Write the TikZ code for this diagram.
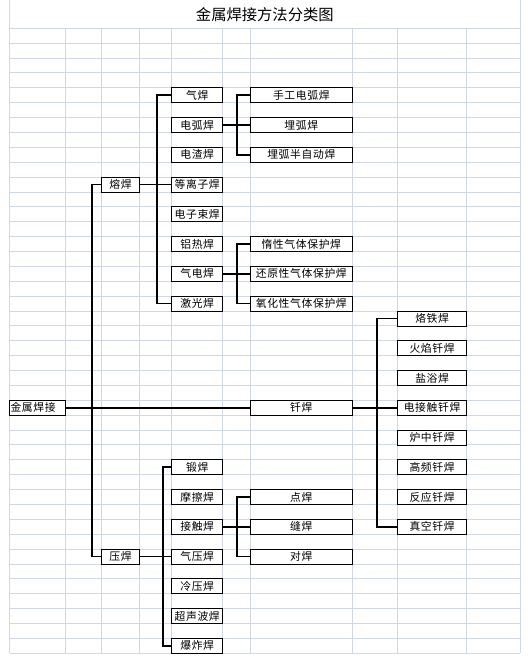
\documentclass[tikz,border=0pt]{standalone}
\usepackage{fontspec}
\newfontfamily\cjk{Noto Sans CJK SC}
\newfontfamily\cjksp[LetterSpace=6]{Noto Sans CJK SC}
\definecolor{gridc}{HTML}{D0D7E5}
\tikzset{
  cellbox/.style={draw=black, line width=0.8pt, fill=white, inner sep=0pt, outer sep=0pt,
    minimum height=14.88pt, font=\cjksp\fontsize{10.8}{11}\selectfont},
  conn/.style={draw=black, line width=1.7pt},
  gridline/.style={draw=gridc, line width=0.9pt}
}
\newcommand{\cbox}[6][]{\node[cellbox, minimum width={(#4-#3)*1pt}, anchor=north west, #1] (#2) at (#3, {28.3+14.88*#5}) {#6};}
\begin{document}
\begin{tikzpicture}[x=1pt,y=-1pt]
\useasboundingbox (0,0) rectangle (531,659);
% grid
\foreach \k in {0,...,42} { \draw[gridline] (9.5,{28.3+14.88*\k}) -- (520,{28.3+14.88*\k}); }
\foreach \cx in {65.5,101.7,139.5,171.7,222.7,250.3,352.3,397.7,466.5} { \draw[gridline] (\cx,28.3) -- (\cx,653.3); }
\draw[gridline] (9.5,0) -- (9.5,653.3);
\draw[gridline] (520,0) -- (520,653.3);
% title
\node[font=\cjk\fontsize{15.3}{16}\selectfont] (title) at (264.8,14.5) {金属焊接方法分类图};
% coordinates of vertical connector lines
\coordinate (t0) at (92,0);
\coordinate (v1) at (157,0);
\coordinate (v2) at (236.7,0);
\coordinate (v3) at (377.3,0);
\coordinate (v4) at (162.7,0);
% root
\cbox[text width={54pt}, inner xsep=1pt, align=left]{jszh}{9.5}{65.5}{25}{金属焊接}
\cbox{rh}{101.7}{139.5}{10}{熔焊}
\cbox{yh}{101.7}{139.5}{35}{压焊}
% fusion welding
\cbox{qh}{171.7}{222.7}{4}{气焊}
\cbox{dhh}{171.7}{222.7}{6}{电弧焊}
\cbox{dzh}{171.7}{222.7}{8}{电渣焊}
\cbox{dlz}{171.7}{222.7}{10}{等离子焊}
\cbox{dzs}{171.7}{222.7}{12}{电子束焊}
\cbox{lrh}{171.7}{222.7}{14}{铝热焊}
\cbox{qdh}{171.7}{222.7}{16}{气电焊}
\cbox{jgh}{171.7}{222.7}{18}{激光焊}
\cbox{sgdh}{250.3}{352.3}{4}{手工电弧焊}
\cbox{mhh}{250.3}{352.3}{6}{埋弧焊}
\cbox{mhb}{250.3}{352.3}{8}{埋弧半自动焊}
\cbox{dx}{250.3}{352.3}{14}{惰性气体保护焊}
\cbox{hy}{250.3}{352.3}{16}{还原性气体保护焊}
\cbox{yhx}{250.3}{352.3}{18}{氧化性气体保护焊}
% brazing
\cbox{qianh}{250.3}{352.3}{25}{钎焊}
\cbox{ltz}{397.7}{466.5}{19}{烙铁焊}
\cbox{hyq}{397.7}{466.5}{21}{火焰钎焊}
\cbox{yyh}{397.7}{466.5}{23}{盐浴焊}
\cbox{djc}{397.7}{466.5}{25}{电接触钎焊}
\cbox{lzq}{397.7}{466.5}{27}{炉中钎焊}
\cbox{gpq}{397.7}{466.5}{29}{高频钎焊}
\cbox{fyq}{397.7}{466.5}{31}{反应钎焊}
\cbox{zkq}{397.7}{466.5}{33}{真空钎焊}
% pressure welding
\cbox{dh}{171.7}{222.7}{29}{锻焊}
\cbox{mch}{171.7}{222.7}{31}{摩擦焊}
\cbox{jch}{171.7}{222.7}{33}{接触焊}
\cbox{qyh}{171.7}{222.7}{35}{气压焊}
\cbox{lyh}{171.7}{222.7}{37}{冷压焊}
\cbox{csb}{171.7}{222.7}{39}{超声波焊}
\cbox{bzh}{171.7}{222.7}{41}{爆炸焊}
\cbox{dianh}{250.3}{352.3}{31}{点焊}
\cbox{fh}{250.3}{352.3}{33}{缝焊}
\cbox{duih}{250.3}{352.3}{35}{对焊}
% connectors
\draw[conn] (jszh.east) -- (qianh.west);
\draw[conn] (rh.west) -- (rh.west -| t0) -- (yh.west -| t0) -- (yh.west);
\draw[conn] (rh.east) -- (dlz.west);
\draw[conn] (qh.west) -- (qh.west -| v1) -- (jgh.west -| v1) -- (jgh.west);
\draw[conn] (dhh.east) -- (mhh.west);
\draw[conn] (sgdh.west) -- (sgdh.west -| v2) -- (mhb.west -| v2) -- (mhb.west);
\draw[conn] (qdh.east) -- (hy.west);
\draw[conn] (dx.west) -- (dx.west -| v2) -- (yhx.west -| v2) -- (yhx.west);
\draw[conn] (qianh.east) -- (djc.west);
\draw[conn] (ltz.west) -- (ltz.west -| v3) -- (zkq.west -| v3) -- (zkq.west);
\draw[conn] (yh.east) -- (qyh.west);
\draw[conn] (dh.west) -- (dh.west -| v4) -- (bzh.west -| v4) -- (bzh.west);
\draw[conn] (jch.east) -- (fh.west);
\draw[conn] (dianh.west) -- (dianh.west -| v2) -- (duih.west -| v2) -- (duih.west);
\end{tikzpicture}
\end{document}
